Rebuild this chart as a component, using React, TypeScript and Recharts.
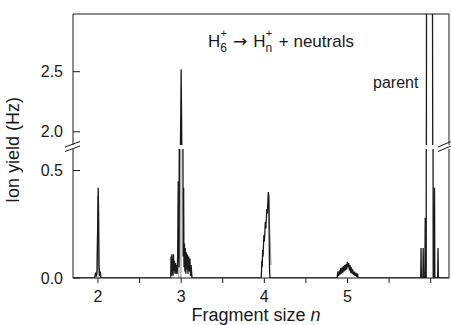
import React from "react";
import { LineChart, Line, XAxis, YAxis, Customized } from "recharts";

const xTicks = [2, 2.5, 3, 3.5, 4, 4.5, 5, 5.5, 6];
const xLabelled = [2, 3, 4, 5];
const upperTicks = [2.0, 2.5];
const lowerTicks = [0.0, 0.5];
const xDomain = [1.7, 6.22];
const upperDomain = [1.89, 2.98];
const lowerDomain = [0, 0.6];

// [fragment size, ion yield in Hz]
const peak2: [number, number][] = [
  [1.7, 0], [1.96, 0], [1.972, 0.025], [1.98, 0.008], [1.99, 0.03], [1.997, 0.25], [2.003, 0.42],
  [2.008, 0.3], [2.013, 0.06], [2.02, 0.01], [2.028, 0.03], [2.036, 0],
];
const peak3: [number, number][] = [
  [2.875, 0], [2.878, 0.1], [2.884, 0.01], [2.888, 0.11], [2.893, 0.02], [2.898, 0.09], [2.903, 0.01],
  [2.908, 0.11], [2.914, 0.03], [2.92, 0.08], [2.926, 0.02], [2.932, 0.07], [2.938, 0.02], [2.945, 0.06],
  [2.952, 0.02], [2.958, 0.1], [2.965, 0.45], [2.969, 0.2], [2.975, 0.05], [2.982, 1.0], [3.0, 2.52],
  [3.004, 2.2], [3.02, 1.0], [3.024, 0.1], [3.03, 0.42], [3.034, 0.05], [3.04, 0.16], [3.045, 0.03],
  [3.05, 0.14], [3.056, 0.02], [3.062, 0.12], [3.068, 0.04], [3.075, 0.11], [3.082, 0.02], [3.09, 0.1],
  [3.097, 0.03], [3.105, 0.09], [3.113, 0.01], [3.12, 0.06], [3.13, 0],
];
const peak4: [number, number][] = [
  [3.962, 0], [3.966, 0.03], [3.97, 0.08], [3.974, 0.05], [3.98, 0.13], [3.985, 0.1], [3.995, 0.2],
  [4.0, 0.17], [4.012, 0.26], [4.018, 0.23], [4.03, 0.32], [4.036, 0.3], [4.048, 0.4], [4.054, 0.38],
  [4.058, 0.2], [4.063, 0.04], [4.068, 0],
];
const peak5: [number, number][] = [
  [4.875, 0], [4.88, 0.02], [4.888, 0.03], [4.895, 0.01], [4.903, 0.035], [4.91, 0.015], [4.918, 0.045],
  [4.926, 0.02], [4.934, 0.05], [4.942, 0.025], [4.95, 0.055], [4.958, 0.03], [4.966, 0.06], [4.974, 0.035],
  [4.982, 0.065], [4.99, 0.04], [4.998, 0.075], [5.006, 0.05], [5.014, 0.07], [5.022, 0.035], [5.03, 0.06],
  [5.038, 0.025], [5.046, 0.05], [5.054, 0.02], [5.062, 0.04], [5.07, 0.015], [5.08, 0.03], [5.09, 0.01],
  [5.1, 0.025], [5.11, 0.005], [5.12, 0.02], [5.128, 0],
];
const parent: [number, number][] = [
  [5.88, 0], [5.884, 0.14], [5.888, 0], [5.906, 0], [5.91, 0.14], [5.914, 0], [5.93, 0], [5.934, 0.28],
  [5.938, 0], [5.946, 0], [5.95, 3.5], [6.02, 3.5], [6.03, 0], [6.042, 0], [6.046, 0.42], [6.05, 0],
  [6.084, 0], [6.088, 0.14], [6.092, 0], [6.22, 0],
];
// lighter second trace
const grayParts: [number, number][][] = [
  [[1.986, 0], [2.0, 0.38], [2.012, 0]],
  [[2.972, 0], [2.977, 0.8], [2.992, 2.1], [2.998, 0]],
  [[4.05, 0.4], [4.08, 0.06]],
];

const toRows = (pts: [number, number][]) => pts.map(([x, y]) => ({ x, y }));
const blackData = toRows([...peak2, ...peak3, ...peak4, ...peak5, ...parent]);
const grayData = grayParts.flatMap((part) => [...toRows(part), { x: part[part.length - 1][0] + 0.001, y: null }]);

const FONT = "'Liberation Sans', Arial, sans-serif";
const INK = "#1a1a1a";
const tickStyle = { fontSize: 16, fill: INK, fontFamily: FONT };

function Overlay() {
  return (
    <g fontFamily={FONT} fill={INK}>
      <text x={19} y={150} fontSize={18} textAnchor="middle" transform="rotate(-90 19 150)">
        Ion yield (Hz)
      </text>
      <text x={256} y={321} fontSize={18} textAnchor="middle">
        Fragment size <tspan fontStyle="italic">n</tspan>
      </text>
      <text x={373} y={88} fontSize={16}>parent</text>
      <g stroke={INK} strokeWidth={1}>
        <line x1={65} y1={147} x2={80} y2={141.5} />
        <line x1={65} y1={151.5} x2={80} y2={146} />
        <line x1={438} y1={147} x2={451} y2={141.5} />
        <line x1={438} y1={151.5} x2={451} y2={146} />
      </g>
    </g>
  );
}

function Title() {
  return (
    <g fontFamily={FONT} fill={INK}>
      <text x={208} y={47} fontSize={17}>
        H
        <tspan fontSize={12} dy={5}>6</tspan>
        <tspan fontSize={11} dx={-6.5} dy={-15}>+</tspan>
        <tspan fontSize={17} dy={10} dx={6} fontFamily="'DejaVu Sans', sans-serif">→</tspan>
        <tspan fontSize={17} dx={6}>H</tspan>
        <tspan fontSize={12} dy={5}>n</tspan>
        <tspan fontSize={11} dx={-6.5} dy={-15}>+</tspan>
        <tspan fontSize={17} dy={10} dx={2}> + neutrals</tspan>
      </text>
    </g>
  );
}

export default function App() {
  return (
    <div style={{ position: "absolute", left: 0, top: 0, width: 451, height: 325, background: "#fff" }}>
      <div style={{ position: "absolute", left: 0, top: 0 }}>
        <LineChart width={451} height={325} margin={{ top: 149, right: 0, bottom: 0, left: 0 }}>
          <XAxis
            type="number"
            dataKey="x"
            domain={xDomain}
            ticks={xTicks}
            allowDataOverflow
            height={47}
            tickSize={5}
            tickMargin={8}
            stroke={INK}
            tick={tickStyle}
            tickFormatter={(v) => (xLabelled.includes(v) ? String(v) : "")}
          />
          <YAxis
            yAxisId="l"
            type="number"
            domain={lowerDomain}
            ticks={lowerTicks}
            allowDataOverflow
            width={73}
            tickSize={-7}
            tickMargin={17}
            stroke={INK}
            tick={tickStyle}
            tickFormatter={(v) => Number(v).toFixed(1)}
          />
          <YAxis yAxisId="r" orientation="right" type="number" domain={lowerDomain} ticks={lowerTicks} width={2} tickSize={3} tick={false} stroke={INK} />
          <Line yAxisId="l" data={grayData} dataKey="y" stroke="#8a8a8a" strokeWidth={1} dot={false} isAnimationActive={false} />
          <Line yAxisId="l" data={blackData} dataKey="y" stroke={INK} strokeWidth={1.3} dot={false} isAnimationActive={false} />
          <Customized component={Overlay} />
        </LineChart>
      </div>
      <div style={{ position: "absolute", left: 0, top: 0 }}>
        <LineChart width={451} height={150} margin={{ top: 0, right: 0, bottom: 5, left: 0 }}>
          <XAxis
            xAxisId="t"
            orientation="top"
            type="number"
            dataKey="x"
            domain={xDomain}
            ticks={xTicks}
            allowDataOverflow
            height={14}
            tickSize={-3}
            tick={false}
            stroke={INK}
          />
          <YAxis
            yAxisId="l"
            type="number"
            domain={upperDomain}
            ticks={upperTicks}
            allowDataOverflow
            width={73}
            tickSize={-7}
            tickMargin={17}
            stroke={INK}
            tick={tickStyle}
            tickFormatter={(v) => Number(v).toFixed(1)}
          />
          <YAxis yAxisId="r" orientation="right" type="number" domain={upperDomain} ticks={upperTicks} width={2} tickSize={3} tick={false} stroke={INK} />
          <Line xAxisId="t" yAxisId="l" data={grayData} dataKey="y" stroke="#8a8a8a" strokeWidth={1} dot={false} isAnimationActive={false} />
          <Line xAxisId="t" yAxisId="l" data={blackData} dataKey="y" stroke={INK} strokeWidth={1.3} dot={false} isAnimationActive={false} />
          <Customized component={Title} />
        </LineChart>
      </div>
    </div>
  );
}
